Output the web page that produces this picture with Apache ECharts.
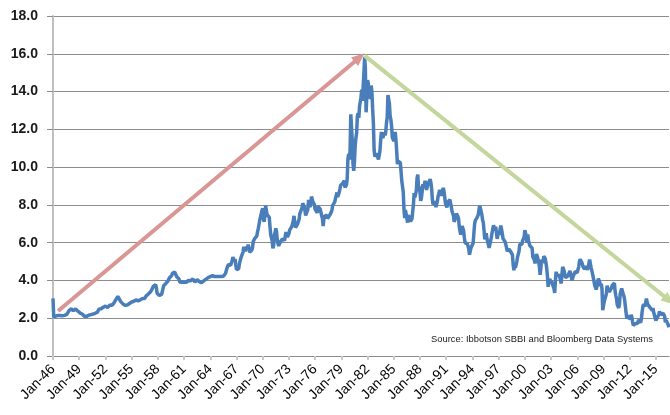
<!DOCTYPE html>
<html>
<head>
<meta charset="utf-8">
<script src="https://cdn.jsdelivr.net/npm/echarts@6/dist/echarts.min.js"></script>
<style>
  html, body { margin: 0; padding: 0; background: #fff; }
  #chart { width: 670px; height: 415px; }
</style>
</head>
<body>
<div id="chart"></div>
<script>
// Long-term government bond yield (%), month-end, Jan 1946 - Jul 2016
const START_YEAR = 1946;
const MONTHS = ['Jan','Feb','Mar','Apr','May','Jun','Jul','Aug','Sep','Oct','Nov','Dec'];

const yields1940s = [
  3.05, 2.05, 2.08, 2.10, 2.12, 2.14, 2.12, 2.15, 2.18, 2.16, 2.14, 2.17,
  2.15, 2.13, 2.16, 2.18, 2.15, 2.14, 2.17, 2.20, 2.24, 2.30, 2.40, 2.45,
  2.47, 2.49, 2.45, 2.43, 2.40, 2.42, 2.46, 2.49, 2.45, 2.42, 2.38, 2.34,
  2.30, 2.28, 2.26, 2.24, 2.22, 2.18, 2.14, 2.10, 2.09, 2.11, 2.10, 2.12
];
const yields1950s = [
  2.14, 2.16, 2.18, 2.17, 2.19, 2.22, 2.20, 2.22, 2.25, 2.27, 2.26, 2.28,
  2.30, 2.32, 2.42, 2.48, 2.52, 2.55, 2.50, 2.46, 2.52, 2.58, 2.61, 2.66,
  2.64, 2.60, 2.62, 2.56, 2.60, 2.66, 2.70, 2.74, 2.72, 2.68, 2.72, 2.78,
  2.82, 2.86, 2.92, 3.02, 3.10, 3.15, 3.08, 3.02, 2.96, 2.88, 2.84, 2.80,
  2.76, 2.73, 2.70, 2.68, 2.72, 2.74, 2.70, 2.72, 2.75, 2.78, 2.80, 2.82,
  2.86, 2.88, 2.92, 2.90, 2.88, 2.93, 2.97, 2.99, 2.95, 2.92, 2.96, 3.00,
  2.98, 2.94, 2.99, 3.05, 3.02, 2.98, 3.05, 3.15, 3.18, 3.14, 3.22, 3.28,
  3.32, 3.38, 3.40, 3.46, 3.54, 3.62, 3.70, 3.72, 3.74, 3.78, 3.60, 3.32,
  3.25, 3.24, 3.20, 3.18, 3.22, 3.26, 3.38, 3.56, 3.72, 3.78, 3.76, 3.84,
  3.92, 3.94, 3.98, 4.06, 4.14, 4.16, 4.20, 4.26, 4.38, 4.34, 4.36, 4.44
];
const yields1960s = [
  4.46, 4.34, 4.20, 4.22, 4.24, 4.08, 3.92, 3.84, 3.86, 3.90, 3.94, 3.90,
  3.92, 3.88, 3.86, 3.90, 3.86, 3.96, 4.00, 4.08, 4.04, 3.98, 4.00, 4.06,
  4.08, 4.06, 3.98, 3.92, 3.94, 3.96, 4.04, 4.02, 3.98, 3.94, 3.92, 3.88,
  3.88, 3.94, 3.95, 3.98, 3.96, 4.02, 4.06, 4.06, 4.12, 4.15, 4.16, 4.18,
  4.20, 4.19, 4.24, 4.25, 4.22, 4.20, 4.21, 4.21, 4.22, 4.21, 4.18, 4.20,
  4.21, 4.22, 4.22, 4.21, 4.22, 4.22, 4.22, 4.27, 4.32, 4.38, 4.48, 4.66,
  4.64, 4.85, 4.88, 4.76, 4.80, 4.84, 5.04, 5.24, 5.18, 5.02, 5.14, 4.84,
  4.58, 4.64, 4.55, 4.62, 4.88, 5.04, 5.18, 5.30, 5.32, 5.50, 5.78, 5.72,
  5.55, 5.58, 5.78, 5.66, 5.90, 5.74, 5.50, 5.42, 5.46, 5.60, 5.74, 6.06,
  6.06, 6.22, 6.32, 6.18, 6.36, 6.60, 6.76, 6.72, 7.20, 7.12, 7.18, 7.70
];
const yields1970s = [
  7.82, 7.26, 7.10, 7.44, 7.96, 7.88, 7.48, 7.56, 7.40, 7.34, 6.86, 6.42,
  6.26, 6.10, 5.70, 5.86, 6.42, 6.54, 6.76, 6.58, 6.16, 5.94, 5.82, 5.94,
  5.96, 6.08, 6.08, 6.20, 6.14, 6.12, 6.12, 6.22, 6.56, 6.48, 6.30, 6.38,
  6.48, 6.66, 6.72, 6.68, 6.86, 6.92, 7.16, 7.42, 7.10, 6.80, 6.74, 6.76,
  7.00, 6.98, 7.24, 7.54, 7.60, 7.56, 7.84, 8.08, 8.06, 7.92, 7.70, 7.44,
  7.52, 7.40, 7.76, 8.26, 8.08, 7.88, 8.08, 8.44, 8.46, 8.16, 8.06, 8.02,
  7.76, 7.80, 7.74, 7.58, 7.92, 7.88, 7.84, 7.78, 7.60, 7.42, 7.30, 6.88,
  7.22, 7.40, 7.46, 7.38, 7.46, 7.28, 7.34, 7.40, 7.34, 7.52, 7.58, 7.70,
  7.96, 8.04, 8.06, 8.16, 8.36, 8.48, 8.66, 8.42, 8.44, 8.66, 8.84, 9.04,
  9.12, 9.14, 9.14, 9.20, 9.28, 8.92, 8.96, 9.06, 9.36, 10.40, 10.70, 10.40
];
const yields1980s = [
  10.90, 12.80, 12.70, 11.40, 10.20, 9.80, 10.28, 11.14, 11.54, 11.80, 12.70, 12.86,
  12.60, 13.22, 13.14, 13.70, 14.10, 13.50, 14.30, 14.96, 15.84, 15.20, 12.90, 13.74,
  14.60, 14.44, 13.88, 13.88, 13.62, 14.32, 13.96, 13.08, 12.34, 10.92, 10.56, 10.54,
  10.46, 10.72, 10.52, 10.40, 10.38, 10.86, 11.40, 11.86, 11.66, 11.54, 11.70, 11.84,
  11.68, 11.86, 12.34, 12.64, 13.82, 13.86, 13.36, 12.72, 12.52, 12.16, 11.58, 11.50,
  11.38, 11.52, 11.86, 11.44, 10.86, 10.16, 10.32, 10.34, 10.38, 10.24, 9.78, 9.26,
  9.20, 8.70, 7.78, 7.30, 7.72, 7.80, 7.30, 7.06, 7.46, 7.44, 7.26, 7.12,
  7.08, 7.26, 7.26, 8.02, 8.62, 8.40, 8.46, 8.76, 9.42, 9.60, 8.86, 8.98,
  8.68, 8.22, 8.38, 8.72, 9.10, 8.92, 9.06, 9.28, 8.98, 8.80, 8.96, 9.12,
  9.10, 9.18, 9.36, 9.18, 8.86, 8.28, 8.02, 8.12, 8.20, 8.02, 7.88, 7.84
];
const yields1990s = [
  8.22, 8.48, 8.60, 8.80, 8.76, 8.48, 8.48, 8.76, 8.90, 8.72, 8.40, 8.08,
  8.10, 7.86, 8.12, 8.04, 8.08, 8.28, 8.28, 7.90, 7.66, 7.54, 7.42, 7.10,
  7.04, 7.34, 7.54, 7.48, 7.40, 7.26, 6.84, 6.60, 6.42, 6.60, 6.88, 6.78,
  6.60, 6.26, 5.98, 5.98, 6.04, 5.96, 5.82, 5.68, 5.36, 5.34, 5.72, 5.78,
  5.76, 5.98, 6.48, 6.98, 7.18, 7.10, 7.30, 7.24, 7.46, 7.74, 7.96, 7.82,
  7.78, 7.48, 7.20, 7.06, 6.64, 6.18, 6.28, 6.50, 6.20, 6.04, 5.94, 5.72,
  5.66, 5.82, 6.28, 6.52, 6.74, 6.92, 6.88, 6.64, 6.84, 6.54, 6.20, 6.30,
  6.58, 6.42, 6.70, 6.90, 6.72, 6.50, 6.22, 6.30, 6.22, 6.04, 5.88, 5.82,
  5.54, 5.58, 5.66, 5.64, 5.66, 5.50, 5.46, 5.34, 4.82, 4.54, 4.84, 4.66,
  4.72, 5.00, 5.24, 5.18, 5.54, 5.90, 5.80, 5.94, 5.92, 6.12, 6.04, 6.28
];
const yields2000s = [
  6.66, 6.52, 6.26, 6.00, 6.44, 6.10, 6.06, 5.84, 5.80, 5.74, 5.72, 5.24,
  5.16, 5.10, 4.90, 5.14, 5.40, 5.28, 5.24, 4.98, 4.74, 4.30, 4.66, 5.10,
  5.04, 4.92, 5.28, 5.22, 5.16, 4.94, 4.66, 4.26, 3.66, 3.94, 4.06, 4.04,
  4.06, 3.90, 3.82, 3.96, 3.58, 3.34, 3.98, 4.46, 4.28, 4.30, 4.30, 4.28,
  4.16, 4.08, 3.84, 4.36, 4.72, 4.74, 4.50, 4.28, 4.14, 4.10, 4.20, 4.24,
  4.22, 4.18, 4.50, 4.34, 4.14, 4.00, 4.18, 4.26, 4.20, 4.46, 4.54, 4.48,
  4.42, 4.58, 4.72, 5.00, 5.12, 5.12, 5.10, 4.88, 4.72, 4.74, 4.60, 4.56,
  4.76, 4.72, 4.56, 4.70, 4.76, 5.10, 5.00, 4.68, 4.52, 4.54, 4.16, 4.10,
  3.74, 3.74, 3.52, 3.68, 3.88, 4.10, 4.02, 3.90, 3.70, 3.82, 3.54, 2.42,
  2.52, 2.88, 2.82, 2.94, 3.30, 3.72, 3.56, 3.60, 3.40, 3.40, 3.40, 3.60
];
const yields2010s = [
  3.74, 3.70, 3.74, 3.86, 3.42, 3.20, 3.02, 2.70, 2.66, 2.54, 2.76, 3.30,
  3.40, 3.58, 3.42, 3.46, 3.18, 3.00, 3.00, 2.30, 1.98, 2.16, 2.02, 1.98,
  1.98, 1.98, 2.18, 2.06, 1.80, 1.62, 1.54, 1.68, 1.72, 1.76, 1.66, 1.72,
  1.92, 1.98, 1.96, 1.76, 1.94, 2.30, 2.58, 2.74, 2.82, 2.62, 2.72, 3.04,
  2.86, 2.72, 2.72, 2.72, 2.56, 2.60, 2.54, 2.42, 2.54, 2.30, 2.34, 2.22,
  1.88, 1.98, 2.04, 1.94, 2.20, 2.36, 2.32, 2.18, 2.18, 2.08, 2.26, 2.24,
  2.10, 1.78, 1.90, 1.82, 1.82, 1.64, 1.52
];

// Trend arrows: [month label, yield] for tail and head
const riseArrow = [['Aug-46', 2.38], ['Feb-81', 15.80]];
const fallArrow = [['Sep-81', 15.90], ['Jul-16', 2.95]];

const yAxisTicks = { min: 0, max: 18, step: 2 };
const sourceNote = 'Source: Ibbotson SBBI and Bloomberg Data Systems';

const yields = [].concat(yields1940s, yields1950s, yields1960s, yields1970s,
                         yields1980s, yields1990s, yields2000s, yields2010s);
const categories = yields.map((_, i) => {
  const yr = START_YEAR + Math.floor(i / 12);
  return MONTHS[i % 12] + '-' + String(yr % 100).padStart(2, '0');
});

const chart = echarts.init(document.getElementById('chart'), null, { renderer: 'canvas' });

const arrowLine = (pts, color) => ({
  silent: true,
  symbol: ['none', 'triangle'],
  symbolSize: [11, 13],
  label: { show: false },
  lineStyle: { color: color, width: 4, type: 'solid' },
  emphasis: { disabled: true },
  data: [[{ coord: pts[0] }, { coord: pts[1] }]]
});

chart.setOption({
  animation: false,
  backgroundColor: '#ffffff',
  grid: { left: 53, right: 1, top: 16, bottom: 59 },
  xAxis: {
    type: 'category',
    data: categories,
    boundaryGap: false,
    axisLine: { lineStyle: { color: '#8c8c8c', width: 1 } },
    axisTick: { show: true, interval: 35, length: 4, lineStyle: { color: '#c8c8c8', width: 2 } },
    axisLabel: {
      interval: 35, rotate: 45, margin: 11,
      fontFamily: 'Liberation Sans, Arial, sans-serif', fontSize: 14, color: '#000'
    },
    splitLine: { show: false }
  },
  yAxis: {
    type: 'value',
    min: yAxisTicks.min, max: yAxisTicks.max, interval: yAxisTicks.step,
    axisLine: { show: true, lineStyle: { color: '#c0c0c0', width: 2 } },
    axisTick: { show: true, length: 6, lineStyle: { color: '#8c8c8c', width: 1 } },
    axisLabel: {
      formatter: v => v.toFixed(1), margin: 15,
      fontFamily: 'Liberation Sans, Arial, sans-serif', fontSize: 14, fontWeight: 'bold', color: '#1a1a1a'
    },
    splitLine: { lineStyle: { color: '#8c8c8c', width: 1 } }
  },
  series: [
    {
      type: 'line', data: yields, showSymbol: false, symbol: 'none',
      lineStyle: { color: '#4a7ebb', width: 3.5 }, z: 3,
      markLine: arrowLine(riseArrow, '#d99694')
    },
    {
      type: 'line', data: [], showSymbol: false, z: 4,
      markLine: arrowLine(fallArrow, '#c3d69b')
    }
  ],
  graphic: [{
    type: 'text', left: 431, top: 335,
    style: { text: sourceNote, fontFamily: 'Liberation Sans, Arial, sans-serif', fontSize: 9.4, fill: '#1a1a1a' }
  }]
});
</script>
</body>
</html>
